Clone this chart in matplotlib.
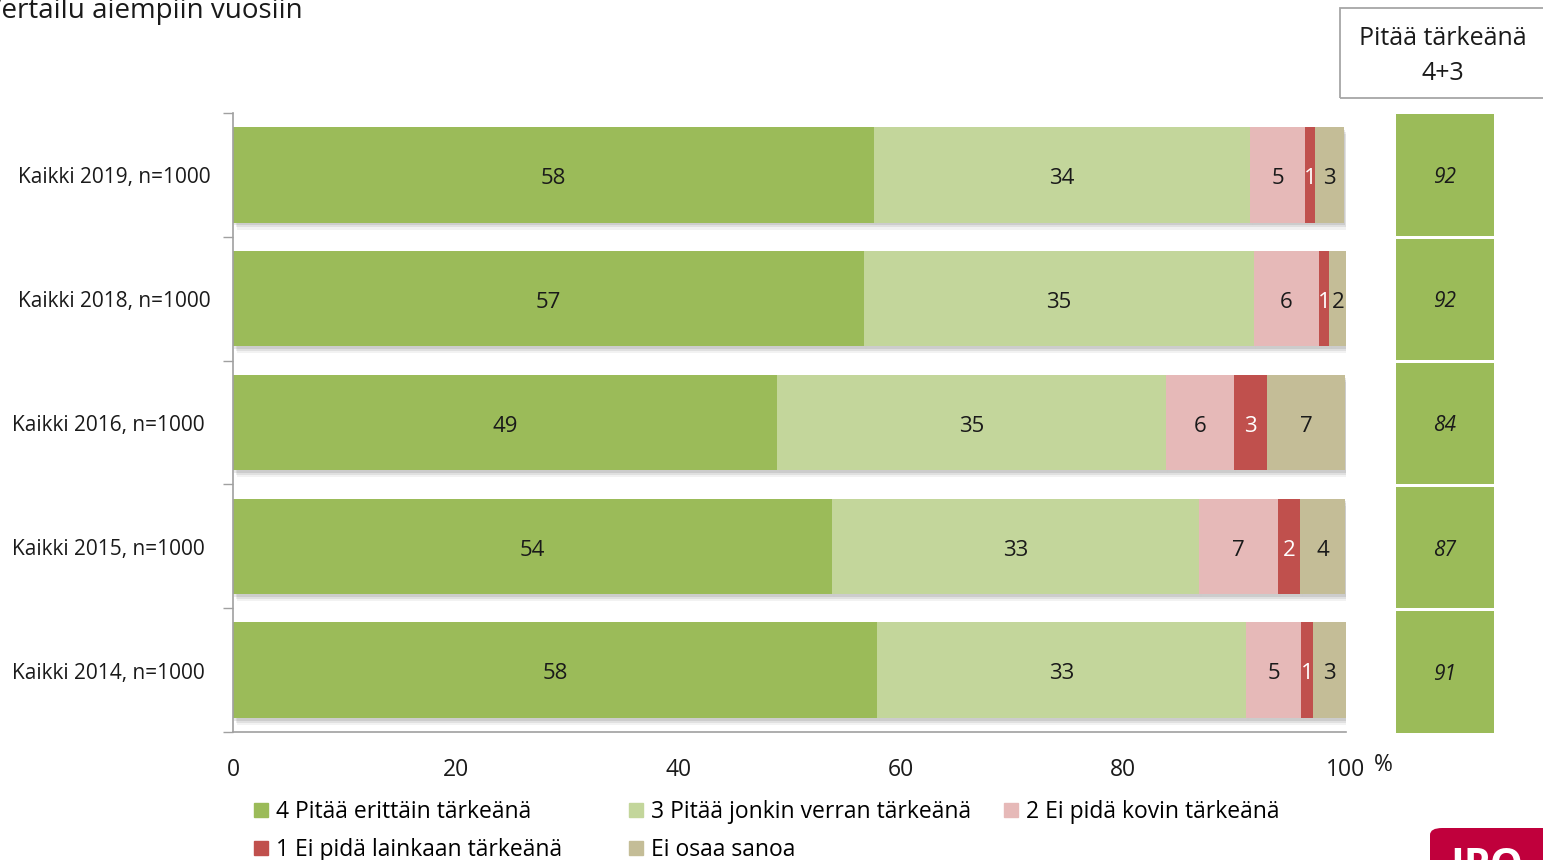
import matplotlib
matplotlib.use("Agg")
import matplotlib.pyplot as plt
import matplotlib.patheffects as pe
from matplotlib.patches import Rectangle, FancyBboxPatch
from matplotlib.transforms import ScaledTranslation
import numpy as np

plt.rcParams['font.family'] = ['Open Sans', 'DejaVu Sans']

# data (percent)
groups = ['Kaikki 2019, n=1000', 'Kaikki 2018, n=1000', 'Kaikki 2016, n=1000',
          'Kaikki 2015, n=1000', 'Kaikki 2014, n=1000']
series = ['4 Pitää erittäin tärkeänä', '3 Pitää jonkin verran tärkeänä',
          '2 Ei pidä kovin tärkeänä', '1 Ei pidä lainkaan tärkeänä', 'Ei osaa sanoa']
very_important = [57.6, 56.7, 48.9, 53.8, 57.9]
somewhat_important = [33.8, 35.0, 34.9, 33.0, 33.1]
not_very = [4.9, 5.9, 6.1, 7.1, 5.0]
not_at_all = [0.9, 0.9, 3.0, 2.0, 1.0]
dont_know = [2.6, 1.6, 7.0, 4.0, 3.0]
important_4_3 = [92, 92, 84, 87, 91]
xticks = [0, 20, 40, 60, 80, 100]

colors = ['#9BBB59', '#C3D69B', '#E6B9B8', '#C0504D', '#C4BD97']
text_colors = ['#1a1a1a', '#1a1a1a', '#1a1a1a', 'white', '#1a1a1a']

fig = plt.figure(figsize=(15.43, 8.6), dpi=100)
ax = fig.add_axes([233/1543, 1-732/860, 1113/1543, 619/860])

shadow = [pe.SimplePatchShadow(offset=(1, -2), shadow_rgbFace='k', alpha=0.09),
          pe.SimplePatchShadow(offset=(2, -3.5), shadow_rgbFace='k', alpha=0.07),
          pe.SimplePatchShadow(offset=(3, -5), shadow_rgbFace='k', alpha=0.05),
          pe.Normal()]

y = np.arange(len(groups))
left = np.zeros(len(groups))
for vals, c, tc, name in zip([very_important, somewhat_important, not_very, not_at_all, dont_know],
                             colors, text_colors, series):
    vals = np.array(vals)
    bars = ax.barh(y, vals, left=left, height=0.77, color=c, label=name)
    for b in bars:
        b.set_path_effects(shadow)
    for yi, l, v in zip(y, left, vals):
        ax.text(l + v/2, yi + 0.03, f"{v:.0f}", ha='center', va='center', fontsize=16, color=tc)
    left += vals

ax.set_xlim(0, 100)
ax.set_ylim(len(groups) - 0.5, -0.5)
ax.set_yticks(y)
ax.set_yticklabels([])
ax.tick_params(axis='y', which='major', length=0)
# category labels (the first two sit a little closer to the axis in the original)
for i, (yi, g) in enumerate(zip(y, groups)):
    off = -22/100 if i < 2 else -28/100
    ax.text(0, yi + 0.025, g, ha='right', va='center', fontsize=15, color='#1a1a1a',
            transform=ax.get_yaxis_transform() + ScaledTranslation(off, 0, fig.dpi_scale_trans))
ax.set_yticks(np.arange(-0.5, len(groups)), minor=True)
ax.tick_params(axis='y', which='minor', length=7, color='#A0A0A0', width=1)
ax.set_xticks(xticks)
ax.set_xticklabels([str(t) for t in xticks], fontsize=16.5, color='#1a1a1a')
ax.tick_params(axis='x', length=0, pad=19)
for s in ['top', 'right']:
    ax.spines[s].set_visible(False)
for s in ['left', 'bottom']:
    ax.spines[s].set_color('#A0A0A0')
    ax.spines[s].set_linewidth(1.2)
fig.text(1383/1543, 1-765/860, '%', fontsize=16.5, ha='center', va='center', color='#1a1a1a')

# side column "Pitää tärkeänä 4+3"
ax2 = fig.add_axes([1396/1543, 1-734/860, 98/1543, 621/860])
ax2.barh(y, [1]*len(groups), height=0.976, color='#9BBB59')
for yi, v in zip(y, important_4_3):
    ax2.text(0.5, yi + 0.02, str(v), ha='center', va='center', fontsize=15, style='italic',
             color='#1a1a1a')
ax2.set_xlim(0, 1)
ax2.set_ylim(len(groups) - 0.5, -0.5)
ax2.axis('off')

fig.patches.append(Rectangle((1340/1543, 1-98/860), 0.2, 90/860, transform=fig.transFigure,
                             fill=False, edgecolor='#A6A6A6', lw=1.3))
fig.text(1443/1543, 1-56/860, 'Pitää tärkeänä\n4+3', ha='center', va='center',
         fontsize=18, linespacing=1.55, color='#1a1a1a')

# title (cut off at the edge in the original)
fig.text(-15/1543, 1-18/860, 'Vertailu aiempiin vuosiin', fontsize=20, ha='left',
         va='baseline', color='#1a1a1a')

# legend: three equal-width columns, filled row by row
proxies = [Rectangle((0, 0), 1, 1, color=c) for c in colors]
columns = [[0, 3], [1, 4], [2]]
col_x = [254, 629, 1004]
for idx, cx in zip(columns, col_x):
    fig.legend([proxies[i] for i in idx], [series[i] for i in idx], ncol=1,
               loc='upper left', bbox_to_anchor=(cx/1543, 1-800/860), frameon=False,
               fontsize=16.5, handlelength=0.6, handleheight=0.6, handletextpad=0.35,
               labelspacing=0.62, borderaxespad=0, borderpad=0)

# logo corner
fig.patches.append(FancyBboxPatch((1430/1543, -0.03), 0.12, 32/860 + 0.03,
                                  transform=fig.transFigure,
                                  boxstyle='round,pad=0,rounding_size=0.008',
                                  facecolor='#C0003C', edgecolor='none'))
fig.text(1450/1543, 1-878/860, 'IPO', fontsize=30, fontweight='bold', color='white',
         ha='left', va='baseline')

fig.savefig('out.png', dpi=100)
